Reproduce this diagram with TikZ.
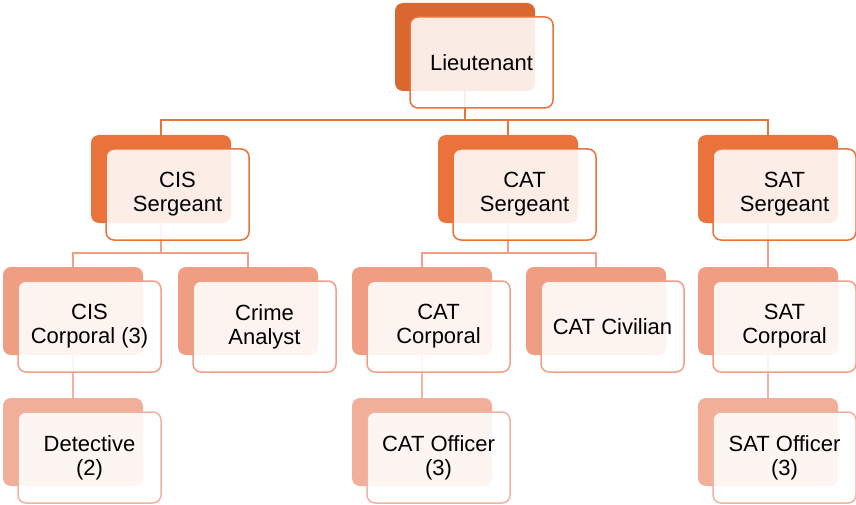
\documentclass[tikz,border=0pt]{standalone}
\usepackage{fontspec}
\setmainfont{Liberation Sans}
\usetikzlibrary{calc}
\definecolor{ltcol}{HTML}{D9672F}
\definecolor{sgcol}{HTML}{E9733A}
\definecolor{cpcol}{HTML}{EF9D83}
\definecolor{cpline}{HTML}{F0A088}
\definecolor{ofcol}{HTML}{F1AE98}
\definecolor{ofline}{HTML}{F2B4A0}
\tikzset{
  backbox/.style={rounded corners=8pt, minimum width=140pt, minimum height=88pt, inner sep=0pt, draw=none},
  frontbox/.style={rounded corners=8pt, minimum width=143pt, minimum height=91pt, inner sep=0pt, line width=1.5pt, fill=white, fill opacity=0.88, text opacity=1, align=center, font=\fontsize{22}{24}\selectfont},
  conn/.style={line width=1.5pt}
}
\newcommand\orgbox[5]{%
  \node[backbox, fill=#3] (#1b) at (#2) {};
  \node[frontbox, draw=#4] (#1) at ($(#1b)+(16.5,15.5)$) {#5};
}
\begin{document}
\begin{tikzpicture}[x=1pt,y=-1pt]
\useasboundingbox (0,0) rectangle (856,505);
% anchor coordinates for back boxes
\coordinate (ltc) at (465,47);
\coordinate (cissc) at (161,179);
\coordinate (catsc) at (508,179);
\coordinate (satsc) at (768,179);
\coordinate (ciscc) at (73,311);
\coordinate (crimc) at (248,311);
\coordinate (catcc) at (422,311);
\coordinate (catvc) at (596,311);
\coordinate (satcc) at (768,311);
\coordinate (detc) at (73,442);
\coordinate (catoc) at (422,442);
\coordinate (satoc) at (768,442);
\coordinate (bus1) at (0,120);
\coordinate (bus2) at (0,253);
% connectors
\draw[conn, sgcol] (ltc) -- (ltc |- bus1) -| (cissc);
\draw[conn, sgcol] (ltc |- bus1) -| (catsc);
\draw[conn, sgcol] (ltc |- bus1) -| (satsc);
\draw[conn, cpline] (cissc) -- (cissc |- bus2) -| (ciscc);
\draw[conn, cpline] (cissc |- bus2) -| (crimc);
\draw[conn, cpline] (catsc) -- (catsc |- bus2) -| (catcc);
\draw[conn, cpline] (catsc |- bus2) -| (catvc);
\draw[conn, cpline] (satsc) -- (satcc);
\draw[conn, ofline] (ciscc) -- (detc);
\draw[conn, ofline] (catcc) -- (catoc);
\draw[conn, ofline] (satcc) -- (satoc);
% boxes
\orgbox{lt}{ltc}{ltcol}{sgcol}{Lieutenant}
\orgbox{ciss}{cissc}{sgcol}{sgcol}{CIS\\Sergeant}
\orgbox{cats}{catsc}{sgcol}{sgcol}{CAT\\Sergeant}
\orgbox{sats}{satsc}{sgcol}{sgcol}{SAT\\Sergeant}
\orgbox{cisc}{ciscc}{cpcol}{cpline}{CIS\\Corporal (3)}
\orgbox{crim}{crimc}{cpcol}{cpline}{Crime\\Analyst}
\orgbox{catc}{catcc}{cpcol}{cpline}{CAT\\Corporal}
\orgbox{catv}{catvc}{cpcol}{cpline}{CAT Civilian}
\orgbox{satc}{satcc}{cpcol}{cpline}{SAT\\Corporal}
\orgbox{det}{detc}{ofcol}{ofline}{Detective\\(2)}
\orgbox{cato}{catoc}{ofcol}{ofline}{CAT Officer\\(3)}
\orgbox{sato}{satoc}{ofcol}{ofline}{SAT Officer\\(3)}
\end{tikzpicture}
\end{document}
